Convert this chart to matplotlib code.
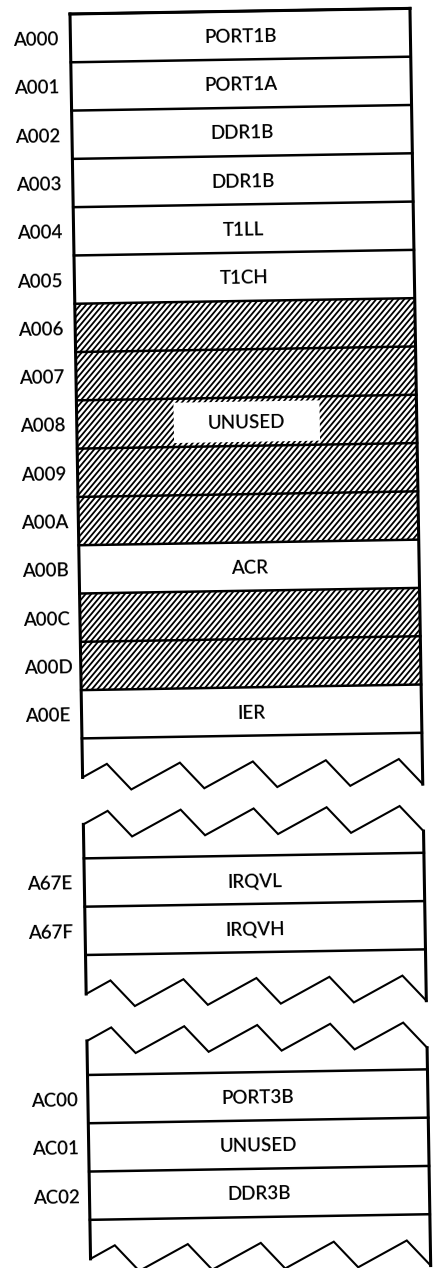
import matplotlib
matplotlib.use('Agg')
import matplotlib.pyplot as plt
import numpy as np
from matplotlib.patches import Polygon
from matplotlib.collections import LineCollection

# ==================== data ====================
seg1_addr = ['A000', 'A001', 'A002', 'A003', 'A004', 'A005', 'A006', 'A007',
             'A008', 'A009', 'A00A', 'A00B', 'A00C', 'A00D', 'A00E']
seg1_names = ['PORT1B', 'PORT1A', 'DDR1B', 'DDR1B', 'T1LL', 'T1CH', '', '',
              'UNUSED', '', '', 'ACR', '', '', 'IER']
seg1_hatch = [0, 0, 0, 0, 0, 0, 1, 1, 1, 1, 1, 0, 1, 1, 0]

seg2_addr = ['A67E', 'A67F']
seg2_names = ['IRQVL', 'IRQVH']

seg3_addr = ['AC00', 'AC01', 'AC02']
seg3_names = ['PORT3B', 'UNUSED', 'DDR3B']

# ==================== geometry (pixels, scan is tilted ~1 deg) ====================
W = 340
ROW_H = 48.3
X0, Y0 = 70, 14
TILT_DEG = 0.945
TILT = np.radians(TILT_DEG)
CAP_TOP = 34
CAP_BOT = 39
GAP = 47
ZIG_PERIOD = 73
ZIG_RISE = 49
ZIG_DEPTH = 13
HATCH_ANGLE = 50
HATCH_STEP = 5.6
FONT = 'Lato'
FS = 13.5


def rot(u, v):
    u = np.asarray(u, float)
    v = np.asarray(v, float)
    x = X0 + u * np.cos(TILT) + v * np.sin(TILT)
    y = Y0 - u * np.sin(TILT) + v * np.cos(TILT)
    return x, y


def zig_profile():
    # sawtooth cut: long gentle rise, short steep drop
    us, vs = [-(ZIG_PERIOD - ZIG_RISE)], [ZIG_DEPTH]
    peak = ZIG_RISE / 2
    for k in range(7):
        p = peak + k * ZIG_PERIOD
        us += [p, p + (ZIG_PERIOD - ZIG_RISE)]
        vs += [-ZIG_DEPTH, ZIG_DEPTH]
    us, vs = np.array(us), np.array(vs)
    keep = (us > 0) & (us < W)
    zu = np.concatenate([[0], us[keep], [W]])
    zv = np.concatenate([[np.interp(0, us, vs)], vs[keep], [np.interp(W, us, vs)]])
    return zu, zv


ZU, ZV = zig_profile()
ZV = ZV - ZV[0]

fig = plt.figure(figsize=(4.35, 12.68), dpi=100, facecolor='white')
ax = fig.add_axes([0, 0, 1, 1])
ax.set_xlim(0, 435)
ax.set_ylim(1268, 0)
ax.axis('off')


def line(u, v, lw):
    x, y = rot(u, v)
    ax.plot(x, y, color='black', lw=lw, solid_joinstyle='miter', solid_capstyle='projecting', zorder=5)


def hatch_row(v0, v1):
    xs, ys = rot([0, W, W, 0], [v0, v0, v1, v1])
    clip = Polygon(np.column_stack([xs, ys]), closed=True, fill=False, edgecolor='none')
    ax.add_patch(clip)
    ytop, ybot = ys.min(), ys.max()
    run = (ybot - ytop) / np.tan(np.radians(HATCH_ANGLE))
    starts = np.arange(xs.min() - run, xs.max() + HATCH_STEP, HATCH_STEP)
    segs = [[(c, ybot), (c + run, ytop)] for c in starts]
    lc = LineCollection(segs, colors='black', linewidths=1.3, zorder=2)
    ax.add_collection(lc)
    lc.set_clip_path(clip)


def label(u, v, s, ha):
    x, y = rot(u, v + 7)
    ax.text(x, y, s, ha=ha, va='baseline', fontsize=FS, family=FONT, fontweight='semibold',
            rotation=TILT_DEG, rotation_mode='anchor', zorder=6)


def draw_segment(start, addrs, names, hatch=None, zig_top=True):
    n = len(addrs)
    end = start + n * ROW_H
    vb = end + CAP_BOT
    if zig_top:
        vt = start - CAP_TOP
        line(ZU, vt + ZV, 1.5)
        left_top, right_top = vt, vt + ZV[-1]
    else:
        vt = start
        line([0, W], [vt, vt], 2.2)
        left_top, right_top = vt, vt
    line(ZU, vb + ZV, 1.5)
    line([0, 0], [left_top, vb], 2.2)
    line([W, W], [right_top, vb + ZV[-1]], 2.2)

    for i in range(n + 1):
        line([0, W], [start + i * ROW_H] * 2, 1.8)

    for i in range(n):
        v0 = start + i * ROW_H
        vc = v0 + ROW_H / 2
        if hatch is not None and hatch[i]:
            hatch_row(v0, v0 + ROW_H)
            if names[i]:
                bx, by = rot([97, 243, 243, 97], [v0 + 4, v0 + 4, v0 + ROW_H - 4, v0 + ROW_H - 4])
                ax.add_patch(Polygon(np.column_stack([bx, by]), closed=True,
                                     facecolor='white', edgecolor='none', zorder=3))
        label(-57, vc, addrs[i], 'left')
        if names[i]:
            label(W / 2, vc, names[i], 'center')
    return vb


# ==================== segments ====================
vb1 = draw_segment(0, seg1_addr, seg1_names, seg1_hatch, zig_top=False)
vb2 = draw_segment(vb1 + GAP + CAP_TOP, seg2_addr, seg2_names)
vb3 = draw_segment(vb2 + GAP + CAP_TOP, seg3_addr, seg3_names)

fig.savefig('out.png', dpi=100, facecolor='white')
